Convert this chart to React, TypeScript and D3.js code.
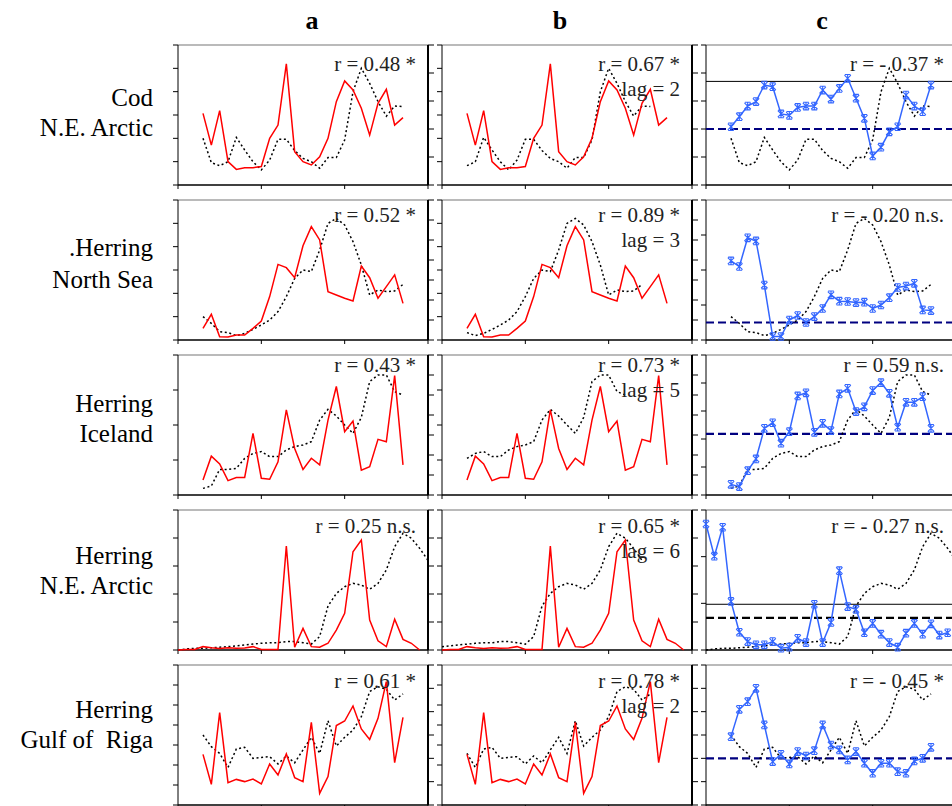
import React from 'react';
import * as d3 from 'd3';

// series values (left axis = red, right axis = dotted, c = blue)
const codRed = [3.07, 1.71, 3.19, 1.0, 0.67, 0.74, 0.74, 0.79, 2.0, 2.57, 5.19, 1.43, 1.0, 0.86, 1.21, 2.0, 3.57, 4.46, 4.07, 3.29, 2.14, 3.5, 4.1, 2.57, 2.89];
const codDotted = [1.67, 0.8, 0.69, 0.83, 1.7, 1.25, 0.83, 0.54, 0.89, 1.63, 1.63, 1.23, 0.95, 0.83, 0.6, 0.98, 0.98, 1.61, 3.33, 4.17, 3.63, 2.98, 2.46, 2.82, 2.8];
const codBlue = [2.08, 2.44, 2.82, 2.98, 3.57, 3.51, 2.54, 2.49, 2.77, 2.82, 2.82, 3.39, 3.07, 3.45, 3.81, 3.1, 2.38, 1.04, 1.35, 1.9, 2.08, 3.21, 2.82, 2.62, 3.57];

const herNSRed = [0.5, 1.1, 0.14, 0.13, 0.21, 0.21, 0.5, 0.81, 1.86, 3.24, 3.1, 2.67, 4.04, 4.86, 4.29, 2.07, 1.93, 1.79, 1.67, 3.17, 2.67, 1.79, 2.29, 2.79, 1.57];
const herNSDotted = [1.17, 0.83, 0.42, 0.37, 0.22, 0.33, 0.53, 0.75, 1.0, 1.42, 2.17, 3.08, 3.5, 3.42, 4.5, 5.83, 6.08, 5.75, 4.92, 3.75, 2.25, 2.5, 2.42, 2.45, 2.78];
const herNSBlue = [2.26, 2.1, 2.92, 2.83, 1.57, 0.1, 0.1, 0.57, 0.7, 0.5, 0.67, 0.9, 1.29, 1.11, 1.1, 1.07, 1.08, 0.9, 1.0, 1.21, 1.5, 1.54, 1.62, 0.86, 0.84];

const herIceRed = [0.43, 1.11, 0.89, 0.41, 0.5, 0.5, 1.76, 0.48, 0.45, 0.95, 2.43, 1.33, 0.73, 1.05, 0.86, 2.14, 3.1, 1.81, 2.11, 0.71, 0.81, 1.59, 1.52, 3.41, 0.86];
const herIceDotted = [0.33, 0.45, 1.28, 1.28, 1.33, 1.83, 2.08, 2.17, 1.92, 1.92, 2.25, 2.42, 2.5, 2.67, 3.75, 4.28, 3.95, 3.5, 3.08, 3.88, 5.67, 6.0, 6.0, 5.17, 5.0];
const herIceBlue = [0.38, 0.3, 0.87, 1.29, 2.38, 2.58, 1.85, 2.26, 3.54, 3.65, 2.24, 2.56, 2.3, 3.61, 3.81, 2.98, 3.15, 3.73, 4.01, 3.63, 2.42, 3.31, 3.31, 3.51, 2.38];

const herNERed = [0, 0.02, 0.02, 0.12, 0.08, 0.05, 0.08, 0.06, 0.07, 0.12, 0.02, 0.02, 0.02, 3.71, 0.1, 0.77, 0.12, 0.1, 0.24, 0.71, 1.31, 3.51, 3.93, 1.07, 0.33, 0.12, 1.1, 0.38, 0.24, 0];
const herNEDotted = [0, 0.04, 0.06, 0.06, 0.08, 0.1, 0.12, 0.15, 0.18, 0.21, 0.24, 0.26, 0.26, 0.3, 0.3, 0.26, 0.21, 0.48, 1.57, 2.02, 2.26, 2.38, 2.32, 2.17, 2.38, 2.86, 3.69, 4.17, 3.99, 3.63, 3.2];
const herNEBlue = [2.7, 2.01, 2.63, 1.04, 0.38, 0.18, 0.11, 0.11, 0.18, 0.04, 0.06, 0.25, 0.16, 0.98, 0.16, 0.59, 1.7, 0.93, 0.87, 0.37, 0.57, 0.34, 0.16, 0.06, 0.36, 0.57, 0.34, 0.56, 0.32, 0.37];

const herRigaRed = [2.53, 1.03, 4.62, 1.12, 1.28, 1.17, 1.3, 1.05, 2.05, 1.5, 2.55, 1.37, 1.17, 4.13, 0.58, 1.42, 3.97, 4.2, 4.95, 3.8, 3.28, 4.33, 6.17, 2.12, 4.38];
const herRigaDotted = [3.0, 2.5, 2.21, 1.61, 2.4, 2.47, 2.0, 2.04, 2.07, 1.76, 2.1, 1.81, 2.36, 2.9, 2.21, 3.61, 2.53, 2.9, 3.21, 3.79, 4.86, 5.07, 4.96, 4.5, 4.76];
const herRigaBlue = [2.93, 4.1, 4.43, 5.0, 3.43, 1.86, 2.17, 1.76, 2.29, 2.1, 2.33, 3.43, 2.57, 2.36, 1.93, 2.29, 1.79, 1.36, 1.79, 1.79, 1.43, 1.36, 1.89, 2.0, 2.47];

const stockNames = [['Cod', 'N.E. Arctic'], ['.Herring', 'North Sea'], ['Herring', 'Iceland'], ['Herring', 'N.E. Arctic'], ['Herring', 'Gulf of  Riga']];
const startYear = [3, 3, 3, 0, 3];
const lags = [2, 3, 5, 6, 2];
const statsA = ['r = 0.48 *', 'r = 0.52 *', 'r = 0.43 *', 'r = 0.25 n.s.', 'r = 0.61 *'];
const statsB = ['r = 0.67 *', 'r = 0.89 *', 'r = 0.73 *', 'r = 0.65 *', 'r = 0.78 *'];
const statsC = ['r = - 0.37 *', 'r = - 0.20 n.s.', 'r = 0.59 n.s.', 'r = - 0.27 n.s.', 'r = - 0.45 *'];
const leftTicks = [6, 6, 4, 5, 7];
const rightTicks = [5, 7, 7, 5, 6];
const blueTicks = [5, 4, 5, 3, 6];
const dashedLevel = [2.0, 0.5, 2.18, 0.69, 2.0];
const solidLevel: (number | null)[] = [3.7, null, null, 0.98, null];
const xTicks = [0, 10, 20, 30];
const colNames = ['a', 'b', 'c'];

const reds = [codRed, herNSRed, herIceRed, herNERed, herRigaRed];
const dotteds = [codDotted, herNSDotted, herIceDotted, herNEDotted, herRigaDotted];
const blues = [codBlue, herNSBlue, herIceBlue, herNEBlue, herRigaBlue];

const W = 952;
const H = 806;
const colLeft = [178, 442, 706];
const colHeadX = [312, 560, 822];
const rowTop = [45, 200, 355, 510, 665];
const panelW = 250;
const panelH = 140;
const textDy = [26, 22, 17, 23, 23];
const labelY = [[106, 136], [256, 288], [412, 442], [564, 594], [718, 748]];
const serif = "'Liberation Serif', 'Times New Roman', serif";

const x = d3.scaleLinear().domain([0, 30]).range([0, panelW]);

type Pt = [number, number];

const starPath = 'M-3.2,-3.2L3.2,3.2M-3.2,3.2L3.2,-3.2M0,-3.8L0,3.8M-2.8,-3.8L2.8,-3.8M-2.8,3.8L2.8,3.8';

const Panel = ({ row, col }: { row: number; col: number }) => {
  const yL = d3.scaleLinear().domain([0, leftTicks[row]]).range([panelH, 0]);
  const yR = d3.scaleLinear().domain([0, rightTicks[row]]).range([panelH, 0]);
  const yC = d3.scaleLinear().domain([0, blueTicks[row]]).range([panelH, 0]);
  const s = startYear[row];

  const redPts: Pt[] = reds[row].map((v, i) => [s + i, v]);
  let dotPts: Pt[] = dotteds[row].map((v, i) => [s + i, v]);
  if (col === 1) {
    // column b: the dotted series is shifted back by the lag
    dotPts = dotPts.map(([t, v]) => [t - lags[row], v] as Pt).filter(([t]) => t >= s);
  }
  const bluePts: Pt[] = blues[row].map((v, i) => [s + i, v]);

  const lineL = d3.line<Pt>().x(d => x(d[0])).y(d => yL(d[1]));
  const lineR = d3.line<Pt>().x(d => x(d[0])).y(d => yR(d[1]));
  const lineC = d3.line<Pt>().x(d => x(d[0])).y(d => yC(d[1]));

  const leftScale = col === 2 ? yC : yL;
  const leftN = col === 2 ? blueTicks[row] : leftTicks[row];
  const stat = [statsA, statsB, statsC][col][row];
  const sl = solidLevel[row];

  return (
    <g transform={`translate(${colLeft[col]},${rowTop[row]})`}>
      {/* frame */}
      <line x1={0} x2={panelW} y1={0} y2={0} stroke="#777" strokeWidth={1.2} />
      <line x1={0} x2={0} y1={0} y2={panelH} stroke="#000" strokeWidth={1} />
      <line x1={panelW} x2={panelW} y1={0} y2={panelH} stroke="#000" strokeWidth={2} />
      <line x1={0} x2={panelW} y1={panelH} y2={panelH} stroke="#000" strokeWidth={1.3} />
      {d3.range(0, leftN + 1).map(t => (
        <line key={'l' + t} x1={-5} x2={0} y1={leftScale(t)} y2={leftScale(t)} stroke="#000" strokeWidth={1} />
      ))}
      {d3.range(0, rightTicks[row] + 1).map(t => (
        <line key={'r' + t} x1={panelW} x2={panelW + 6} y1={yR(t)} y2={yR(t)} stroke="#000" strokeWidth={1} />
      ))}
      {xTicks.map(t => (
        <line key={'x' + t} x1={x(t)} x2={x(t)} y1={panelH} y2={panelH + 4} stroke="#000" strokeWidth={1} />
      ))}

      {col === 2 && sl !== null && (
        <line x1={0} x2={panelW} y1={yC(sl)} y2={yC(sl)} stroke="#000" strokeWidth={1} />
      )}
      {col === 2 && (
        <line x1={0} x2={panelW} y1={yC(dashedLevel[row])} y2={yC(dashedLevel[row])}
          stroke={row === 3 ? '#000' : '#000080'} strokeWidth={2.2} strokeDasharray="8,4" />
      )}

      <path d={lineR(dotPts) || ''} fill="none" stroke="#000" strokeWidth={1.5} strokeDasharray="2,2.6" />

      {col < 2 && <path d={lineL(redPts) || ''} fill="none" stroke="#ff0000" strokeWidth={1.5} />}
      {col === 2 && (
        <g>
          <path d={lineC(bluePts) || ''} fill="none" stroke="#3366ff" strokeWidth={1.5} />
          {bluePts.map((d, i) => (
            <path key={i} d={starPath} transform={`translate(${x(d[0])},${yC(d[1])})`}
              fill="none" stroke="#3366ff" strokeWidth={1.1} />
          ))}
        </g>
      )}

      <text x={panelW - 12} y={textDy[row]} textAnchor="end" fontFamily={serif} fontSize={21} fill="#222">
        {stat}
      </text>
      {col === 1 && (
        <text x={panelW - 12} y={textDy[row] + 25} textAnchor="end" fontFamily={serif} fontSize={21} fill="#222">
          {`lag = ${lags[row]}`}
        </text>
      )}
    </g>
  );
};

export default function App() {
  return (
    <svg width={W} height={H} style={{ position: 'absolute', left: 0, top: 0, background: '#fff' }}>
      <rect width={W} height={H} fill="#fff" />
      {colNames.map((c, i) => (
        <text key={c} x={colHeadX[i]} y={29} textAnchor="middle" fontFamily={serif} fontWeight="bold" fontSize={26}>
          {c}
        </text>
      ))}
      {stockNames.map((lines, r) => (
        <g key={r}>
          {lines.map((t, j) => (
            <text key={j} x={153} y={labelY[r][j]} textAnchor="end" fontFamily={serif} fontSize={25}
              style={{ whiteSpace: 'pre' }}>
              {t}
            </text>
          ))}
        </g>
      ))}
      {d3.range(5).map(r => d3.range(3).map(c => <Panel key={`${r}-${c}`} row={r} col={c} />))}
    </svg>
  );
}
